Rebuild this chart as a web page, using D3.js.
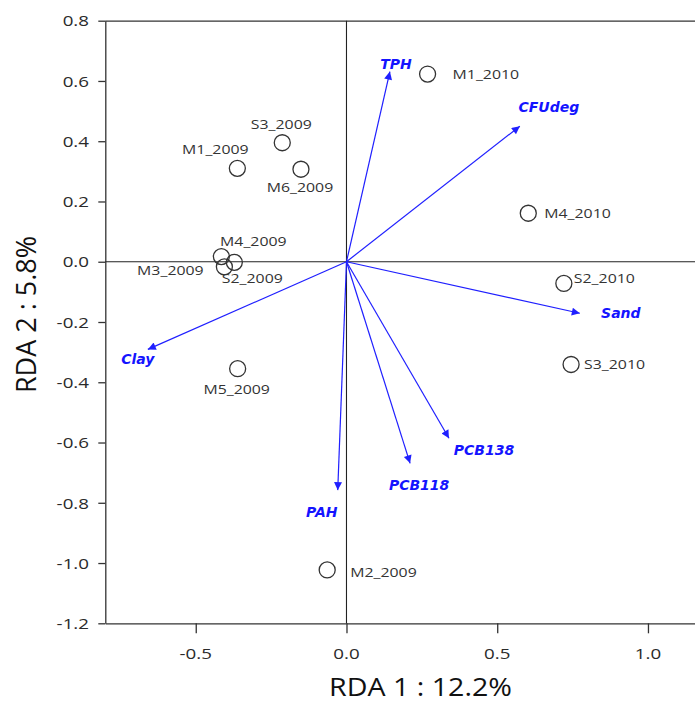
<!DOCTYPE html>
<html><head><meta charset="utf-8">
<script src="https://cdn.jsdelivr.net/npm/d3@7"></script>
<style>body{margin:0;background:#fff}svg{display:block}</style>
</head><body>
<script>
// ---- data ----
const sites = ["M1_2010","M4_2010","S2_2010","S3_2010","M2_2009","M5_2009","M1_2009","S3_2009","M6_2009","M4_2009","M3_2009","S2_2009"];
const siteX = [0.269,0.603,0.721,0.745,-0.064,-0.361,-0.362,-0.213,-0.151,-0.415,-0.405,-0.372];
const siteY = [0.623,0.161,-0.072,-0.341,-1.023,-0.355,0.310,0.395,0.307,0.017,-0.017,-0.002];
const vars = ["TPH","CFUdeg","Sand","PCB138","PCB118","PAH","Clay"];
const varX = [0.144,0.575,0.774,0.340,0.211,-0.029,-0.659];
const varY = [0.631,0.450,-0.171,-0.586,-0.669,-0.758,-0.291];
const xTicks = [-0.5,0.0,0.5,1.0];
const yTicks = [-1.2,-1.0,-0.8,-0.6,-0.4,-0.2,0.0,0.2,0.4,0.6,0.8];
const xTitle = "RDA 1 : 12.2%";
const yTitle = "RDA 2 : 5.8%";

// ---- label placement (pixels) ----
const siteLab = {
  "M1_2010":["start",25,0],"M4_2010":["start",16,0],"S2_2010":["start",10,-5],"S3_2010":["start",13,0],
  "M2_2009":["start",23,2],"M5_2009":["middle",-1,20],"M1_2009":["middle",-22,-19],"S3_2009":["middle",-1,-19],
  "M6_2009":["middle",-1,18],"M4_2009":["middle",32,-16],"M3_2009":["middle",-54,3],"S2_2009":["middle",18,16]
};
const varLab = {"TPH":[6,-8],"CFUdeg":[29,-19],"Sand":[41,0],"PCB138":[35,12],"PCB118":[9,22],"PAH":[-16,22],"Clay":[-10,10]};

const W=695,H=706;
const svg=d3.select("body").append("svg").attr("width",W).attr("height",H);
const x=d3.scaleLinear().domain([-0.8,1.16]).range([105.3,696.2]);
const y=d3.scaleLinear().domain([-1.2,0.8]).range([623.3,20.7]);
const axisCol="#333", textCol="#333", blue="#1f1fff";
const font="'Open Sans', 'Noto Sans', sans-serif";
const fmt=v=>d3.format(".1f")(v).replace("\u2212","-");

function stext(g,tx,ty,str,size,sx,anchor,opts={}){
  const t=g.append("text").attr("transform",`translate(${tx},${ty}) scale(${sx},1)`)
    .attr("text-anchor",anchor).attr("dominant-baseline","central")
    .style("font-family",opts.family||font).style("font-size",size+"px")
    .attr("fill",opts.fill||textCol).text(str);
  if(opts.bold) t.style("font-weight","bold");
  if(opts.italic) t.style("font-style","italic");
  return t;
}

// frame: top and right lines
svg.append("line").attr("x1",x.range()[0]).attr("x2",x.range()[1]).attr("y1",y(0.8)+0.5).attr("y2",y(0.8)+0.5)
  .attr("stroke",axisCol).attr("stroke-width",1.2);
svg.append("line").attr("x1",x.range()[1]-0.5).attr("x2",x.range()[1]-0.5).attr("y1",y(0.8)).attr("y2",y(-1.2))
  .attr("stroke",axisCol).attr("stroke-width",1.2);

// axes
const xAxis=d3.axisBottom(x).tickValues(xTicks).tickSize(10).tickSizeOuter(0).tickFormat(fmt);
const gx=svg.append("g").attr("transform",`translate(0,${y(-1.2)})`).call(xAxis);
const yAxis=d3.axisLeft(y).tickValues(yTicks).tickSize(7).tickSizeOuter(0).tickFormat(fmt);
const gy=svg.append("g").attr("transform",`translate(${x(-0.8)},0)`).call(yAxis);
[gx,gy].forEach(g=>{g.select(".domain").attr("stroke",axisCol).attr("stroke-width",1.3);
  g.selectAll(".tick line").attr("stroke",axisCol).attr("stroke-width",1.3);
  g.selectAll(".tick text").remove();});
// tick labels (stretched like reference)
xTicks.forEach(v=>stext(svg,x(v),653,fmt(v),15,1.25,"middle",{fill:"#2a2a2a"}));
yTicks.forEach(v=>stext(svg,89,y(v),fmt(v),15,1.25,"end",{fill:"#2a2a2a"}));

// zero lines
svg.append("line").attr("x1",x.range()[0]).attr("x2",x.range()[1]).attr("y1",y(0)).attr("y2",y(0)).attr("stroke","#222").attr("stroke-width",1.1);
svg.append("line").attr("x1",x(0)).attr("x2",x(0)).attr("y1",y(0.8)).attr("y2",y(-1.2)).attr("stroke","#222").attr("stroke-width",1.1);

// arrows
const defs=svg.append("defs");
defs.append("marker").attr("id","ah").attr("viewBox","0 0 10 10").attr("refX",10).attr("refY",5)
  .attr("markerWidth",11).attr("markerHeight",8).attr("markerUnits","userSpaceOnUse").attr("orient","auto")
  .append("path").attr("d","M0,0 L10,5 L0,10 Z").attr("fill",blue);
vars.forEach((v,i)=>{
  svg.append("line").attr("x1",x(0)).attr("y1",y(0)).attr("x2",x(varX[i])).attr("y2",y(varY[i]))
    .attr("stroke",blue).attr("stroke-width",1.2).attr("marker-end","url(#ah)");
  const o=varLab[v];
  stext(svg,x(varX[i])+o[0],y(varY[i])+o[1],v,14,1.0,"middle",{fill:"#1414ff",bold:true,italic:true,family:"'DejaVu Sans', Verdana, sans-serif"});
});

// sites
sites.forEach((s,i)=>{
  svg.append("circle").attr("cx",x(siteX[i])).attr("cy",y(siteY[i])).attr("r",8)
    .attr("fill","none").attr("stroke","#333").attr("stroke-width",1.3);
  const o=siteLab[s];
  stext(svg,x(siteX[i])+o[1],y(siteY[i])+o[2],s,13,1.22,o[0]);
});

// titles
stext(svg,420.5,686,xTitle,26,1.1,"middle",{fill:"#111"});
svg.append("text").attr("transform",`translate(25,314.5) rotate(-90)`).attr("text-anchor","middle")
  .attr("dominant-baseline","central").style("font-family",font).style("font-size","27px").attr("fill","#111").text(yTitle);
</script>
</body></html>
